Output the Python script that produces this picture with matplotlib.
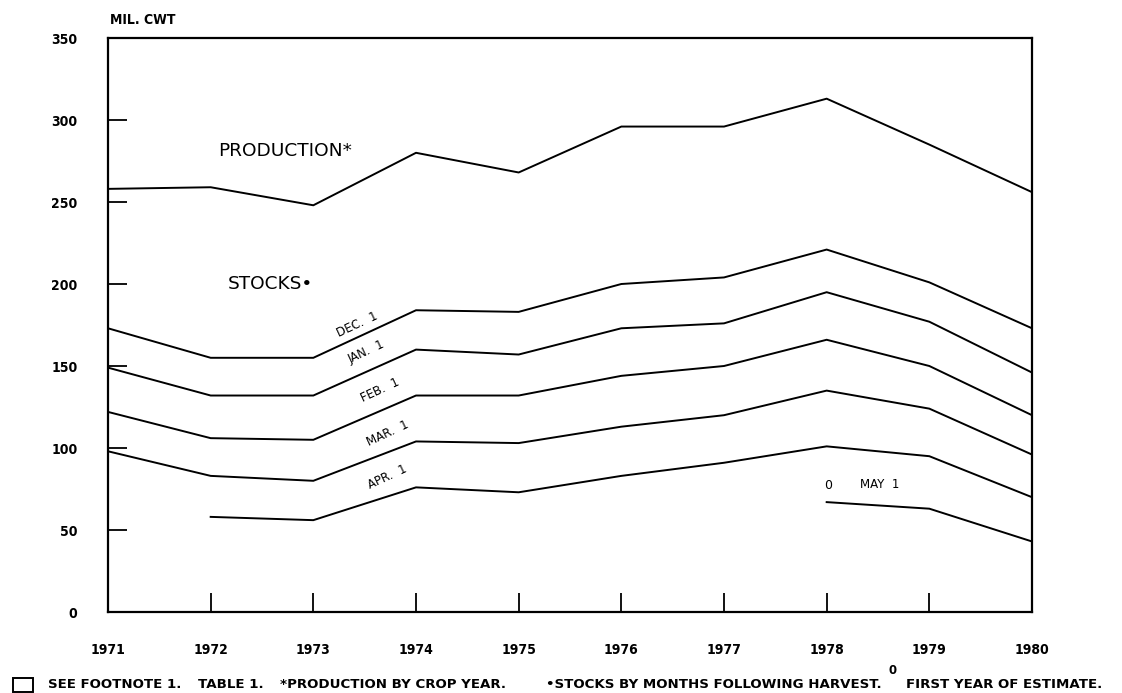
import matplotlib
matplotlib.use("Agg")
import matplotlib.pyplot as plt
from matplotlib.patches import Rectangle

years = [1971, 1972, 1973, 1974, 1975, 1976, 1977, 1978, 1979, 1980]
production = [258, 259, 248, 280, 268, 296, 296, 313, 285, 256]
dec1 = [173, 155, 155, 184, 183, 200, 204, 221, 201, 173]
jan1 = [149, 132, 132, 160, 157, 173, 176, 195, 177, 146]
feb1 = [122, 106, 105, 132, 132, 144, 150, 166, 150, 120]
mar1 = [98, 83, 80, 104, 103, 113, 120, 135, 124, 96]
apr_years = [1972, 1973, 1974, 1975, 1976, 1977, 1978, 1979, 1980]
apr1 = [58, 56, 76, 73, 83, 91, 101, 95, 70]
may_years = [1978, 1979, 1980]
may1 = [67, 63, 43]
yticks = [0, 50, 100, 150, 200, 250, 300, 350]

W, H = 1122, 693
fig = plt.figure(figsize=(W / 100, H / 100), dpi=100)
ax = fig.add_axes([108 / W, 1 - 612 / H, (1032 - 108) / W, (612 - 38) / H])

lw = 1.4
for ys in [production, dec1, jan1, feb1, mar1]:
    ax.plot(years, ys, color="black", lw=lw)
ax.plot(apr_years, apr1, color="black", lw=lw)
ax.plot(may_years, may1, color="black", lw=lw)

ax.set_xlim(1971, 1980)
ax.set_ylim(0, 350)
for s in ax.spines.values():
    s.set_linewidth(1.6)
ax.set_xticks(years)
ax.set_yticks(yticks)
tickfont = dict(family="DejaVu Sans", stretch="condensed", weight="bold", size=10)
ax.set_xticklabels([str(y) for y in years], **tickfont)
ax.set_yticklabels([str(v) for v in yticks], **tickfont)
ax.tick_params(axis="x", direction="in", length=14, width=1.3, pad=22)
ax.tick_params(axis="y", direction="in", length=14, width=1.3, pad=22)

fig.text(110 / W, 1 - 20 / H, "MIL. CWT", ha="left", va="center",
         family="DejaVu Sans", stretch="condensed", weight="bold", size=10)

ax.text(1972.07, 281, "PRODUCTION*", fontsize=13.3, ha="left", va="center")
ax.text(1972.17, 200, "STOCKS\u2022", fontsize=13.3, ha="left", va="center")

rot = 25
lab = dict(fontsize=8.5, ha="center", va="center", rotation=rot, rotation_mode="anchor")
ax.text(1973.43, 175.5, "DEC.  1", **lab)
ax.text(1973.52, 158.5, "JAN.  1", **lab)
ax.text(1973.65, 135, "FEB.  1", **lab)
ax.text(1973.72, 109, "MAR.  1", **lab)
ax.text(1973.72, 82, "APR.  1", **lab)
ax.text(1978.01, 77, "0", fontsize=9, ha="center", va="center")
ax.text(1978.32, 78, "MAY  1", fontsize=8.5, ha="left", va="center")

# footnote
fy = 1 - 685 / H
fig.patches.append(Rectangle((13 / W, 1 - 692 / H), 20 / W, 14 / H, transform=fig.transFigure,
                             fill=False, edgecolor="black", lw=1.4))
foot = dict(ha="left", va="center", fontsize=9.6, weight="bold", family="DejaVu Sans")
fig.text(48 / W, fy, "SEE FOOTNOTE 1.", **foot)
fig.text(198 / W, fy, "TABLE 1.", **foot)
fig.text(280 / W, fy, "*PRODUCTION BY CROP YEAR.", **foot)
fig.text(546 / W, fy, "\u2022STOCKS BY MONTHS FOLLOWING HARVEST.", **foot)
fig.text(893 / W, 1 - 670 / H, "0", ha="center", va="center", fontsize=8.5, weight="bold")
fig.text(906 / W, fy, "FIRST YEAR OF ESTIMATE.", **foot)

fig.savefig("out.png", dpi=100)
